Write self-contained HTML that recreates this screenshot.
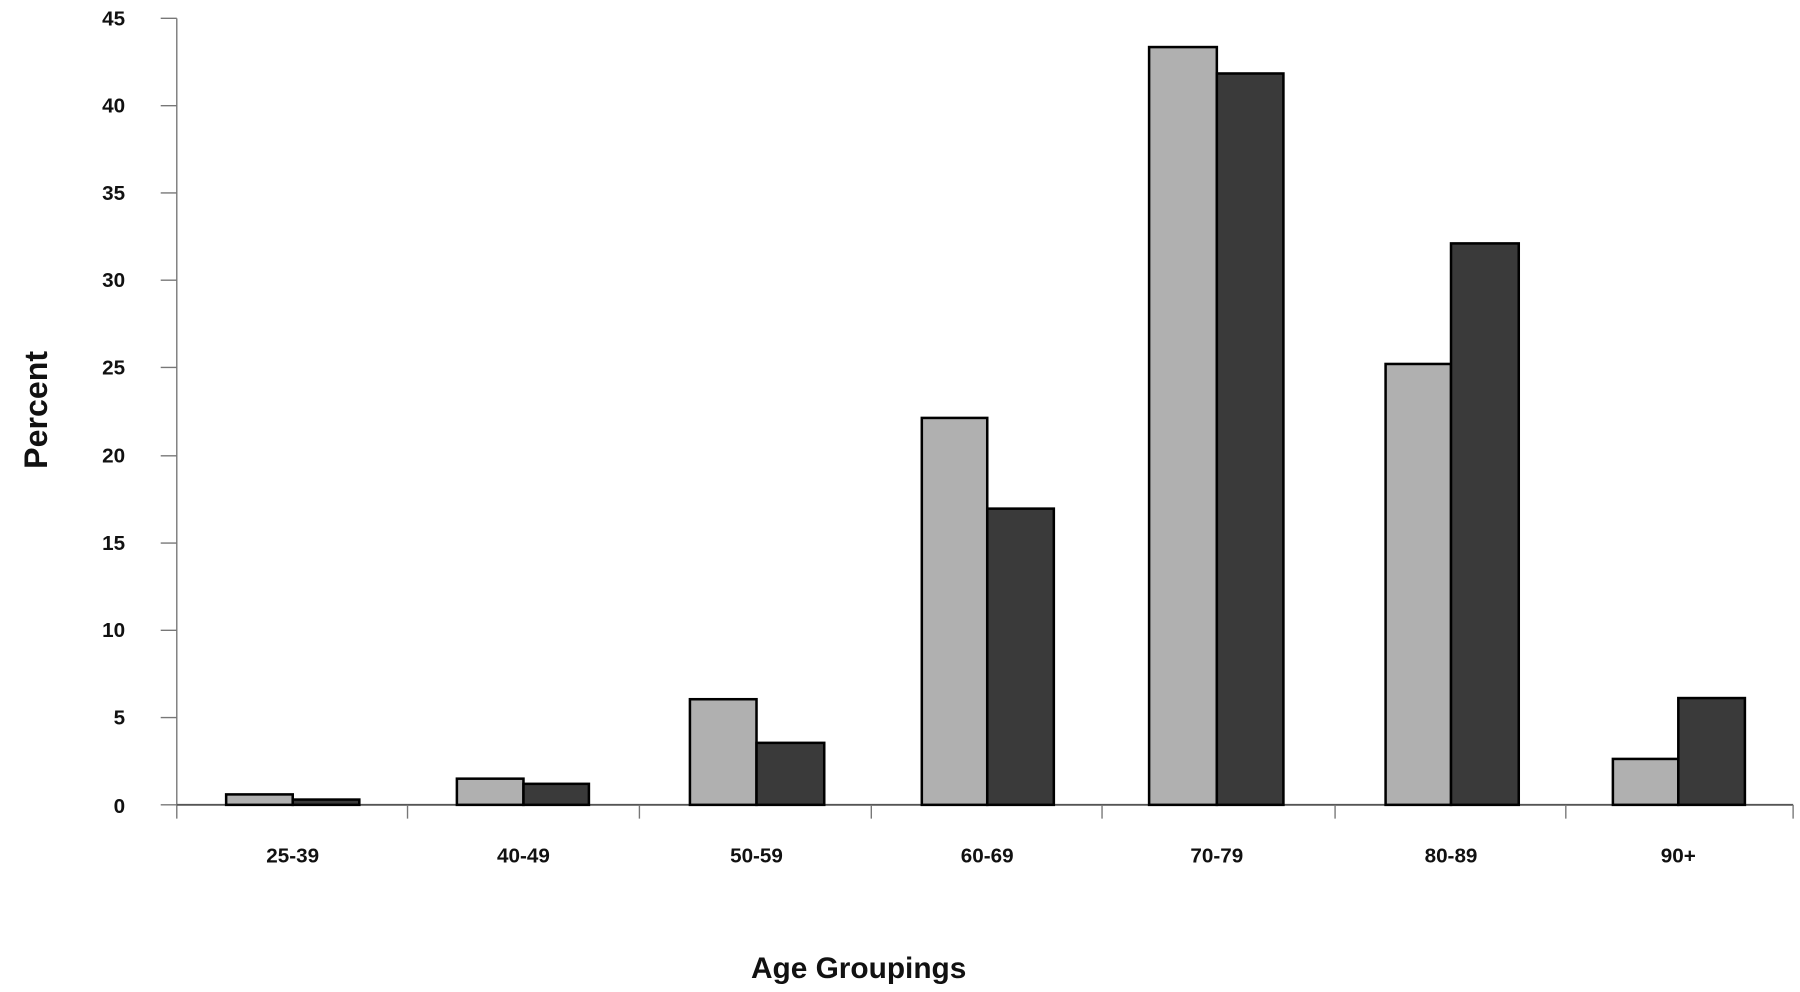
<!DOCTYPE html>
<html><head><meta charset="utf-8"><style>html,body{margin:0;padding:0;background:#fff}svg{display:block}</style></head>
<body>
<svg width="1800" height="992" viewBox="0 0 1568 864" preserveAspectRatio="none" xmlns="http://www.w3.org/2000/svg" font-family="Liberation Sans, Arial, sans-serif" font-weight="bold">
<g stroke="#777" stroke-width="1.2" fill="none">
<line x1="154" y1="16" x2="154" y2="713"/>
<line x1="154" y1="701" x2="1562" y2="701" stroke="#555" stroke-width="1.6"/>
<line x1="140" y1="16" x2="154" y2="16"/>
<line x1="140" y1="92" x2="154" y2="92"/>
<line x1="140" y1="168" x2="154" y2="168"/>
<line x1="140" y1="244" x2="154" y2="244"/>
<line x1="140" y1="320" x2="154" y2="320"/>
<line x1="140" y1="397" x2="154" y2="397"/>
<line x1="140" y1="473" x2="154" y2="473"/>
<line x1="140" y1="549" x2="154" y2="549"/>
<line x1="140" y1="625" x2="154" y2="625"/>
<line x1="140" y1="701" x2="154" y2="701"/>
<line x1="355" y1="701" x2="355" y2="713"/>
<line x1="557" y1="701" x2="557" y2="713"/>
<line x1="759" y1="701" x2="759" y2="713"/>
<line x1="960" y1="701" x2="960" y2="713"/>
<line x1="1163" y1="701" x2="1163" y2="713"/>
<line x1="1364" y1="701" x2="1364" y2="713"/>
<line x1="1562" y1="701" x2="1562" y2="713"/>
</g>
<g font-size="18" text-anchor="end" fill="#111">
<text x="109" y="22">45</text><text x="109" y="98">40</text><text x="109" y="174">35</text>
<text x="109" y="250">30</text><text x="109" y="326">25</text><text x="109" y="403">20</text>
<text x="109" y="479">15</text><text x="109" y="555">10</text><text x="109" y="631">5</text>
<text x="109" y="708">0</text>
</g>
<g stroke="#000" stroke-width="2.2">
<rect x="197" y="691.9" width="58" height="9.1" fill="#b0b0b0"/>
<rect x="255" y="696.4" width="58" height="4.6" fill="#3a3a3a"/>
<rect x="398" y="678.2" width="58" height="22.8" fill="#b0b0b0"/>
<rect x="456" y="682.7" width="57" height="18.3" fill="#3a3a3a"/>
<rect x="601" y="609" width="58" height="92" fill="#b0b0b0"/>
<rect x="659" y="647" width="59" height="54" fill="#3a3a3a"/>
<rect x="803" y="364" width="57" height="337" fill="#b0b0b0"/>
<rect x="860" y="443" width="58" height="258" fill="#3a3a3a"/>
<rect x="1001" y="41" width="59" height="660" fill="#b0b0b0"/>
<rect x="1060" y="64" width="58" height="637" fill="#3a3a3a"/>
<rect x="1207" y="317" width="57" height="384" fill="#b0b0b0"/>
<rect x="1264" y="212" width="59" height="489" fill="#3a3a3a"/>
<rect x="1405" y="661" width="57" height="40" fill="#b0b0b0"/>
<rect x="1462" y="608" width="58" height="93" fill="#3a3a3a"/>
</g>
<g font-size="18" text-anchor="middle" fill="#111">
<text x="255" y="751">25-39</text><text x="456" y="751">40-49</text><text x="659" y="751">50-59</text>
<text x="860" y="751">60-69</text><text x="1060" y="751">70-79</text><text x="1264" y="751">80-89</text>
<text x="1462" y="751">90+</text>
</g>
<text x="748" y="852" font-size="26" text-anchor="middle" fill="#111">Age Groupings</text>
<text transform="translate(41,357) rotate(-90)" font-size="28" text-anchor="middle" fill="#111">Percent</text>
</svg>
</body></html>
